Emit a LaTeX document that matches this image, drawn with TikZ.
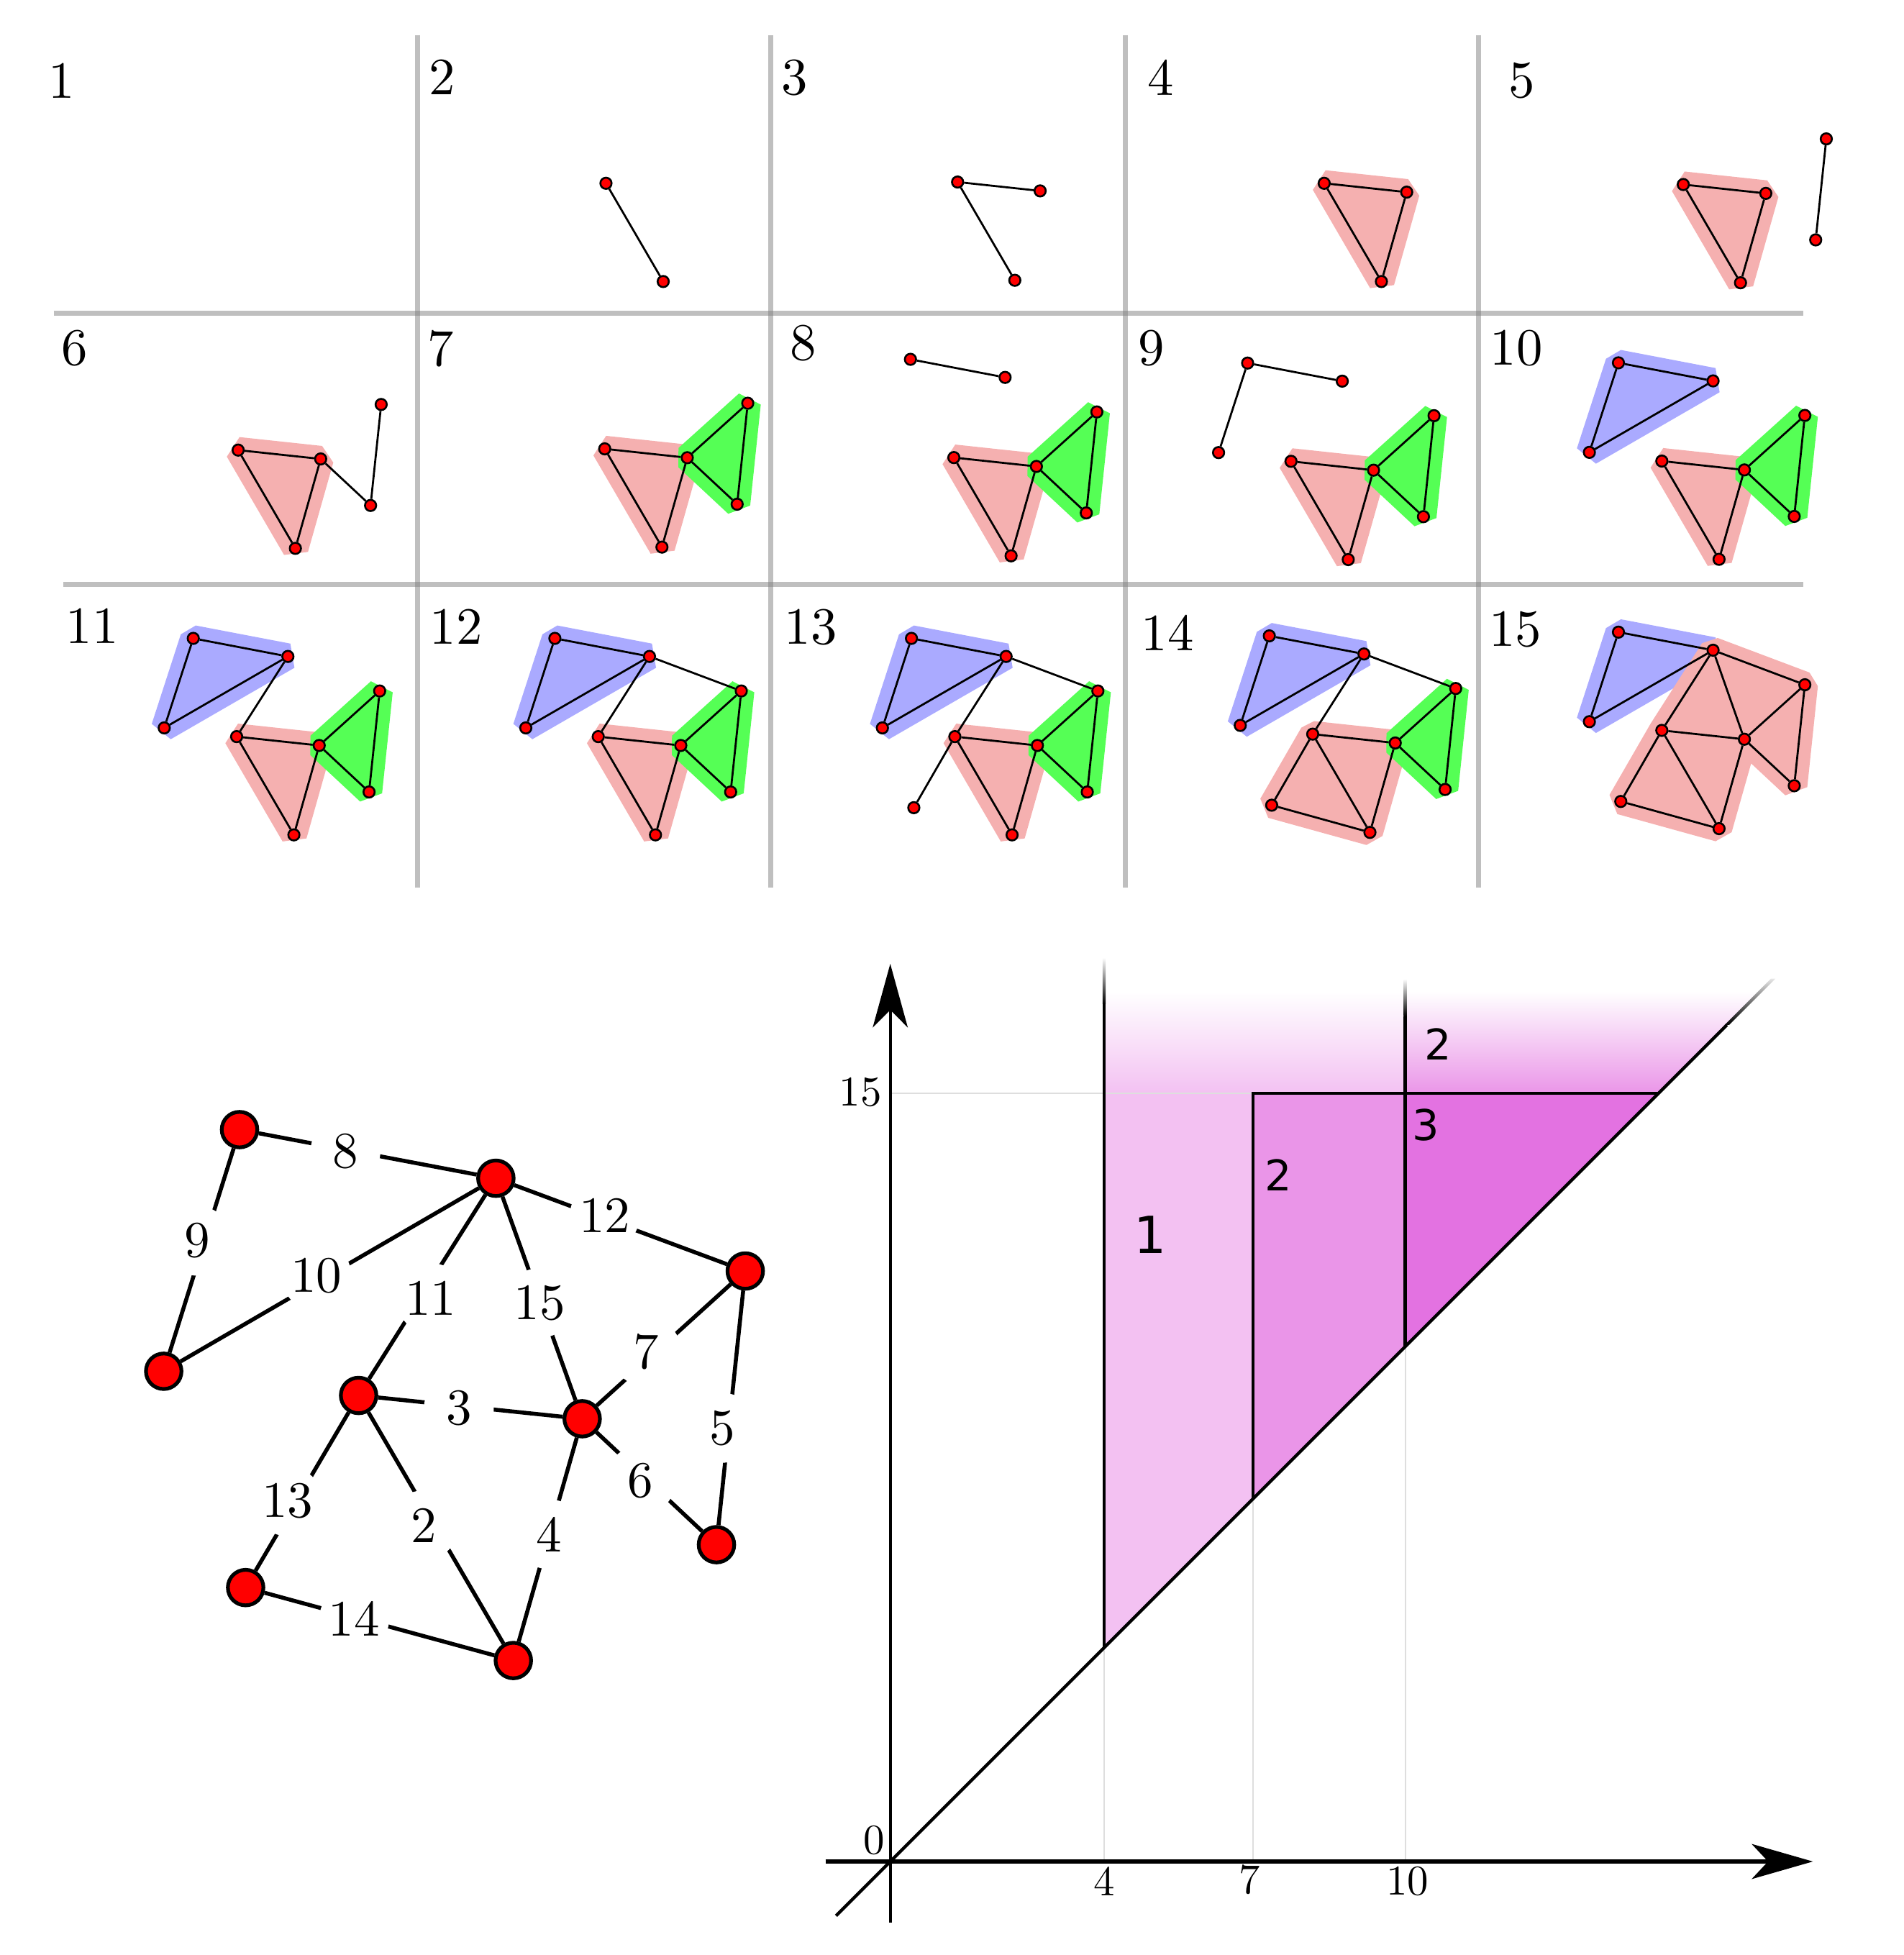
\documentclass[tikz,border=0pt]{standalone}
\usepackage{fontspec}
\newfontfamily\dejavu{DejaVu Sans}
\newfontfamily\lmten{lmroman10-regular}[Extension=.otf]
\usetikzlibrary{arrows.meta}
\definecolor{gridgray}{RGB}{128,128,128}
\definecolor{hpink}{RGB}{245,176,176}
\definecolor{hgreen}{RGB}{85,255,85}
\definecolor{hblue}{RGB}{170,170,255}
\definecolor{rone}{RGB}{243,193,242}
\definecolor{rtwo}{RGB}{234,149,232}
\definecolor{rthree}{RGB}{227,114,225}
\definecolor{lightgrid}{RGB}{222,222,222}
\tikzset{
  gridline/.style={draw=gridgray, draw opacity=0.5, line width=4pt},
  hullpink/.style={fill=hpink, draw=hpink, line width=21pt, line join=bevel},
  hullgreen/.style={fill=hgreen, draw=hgreen, line width=21pt, line join=bevel},
  hullblue/.style={fill=hblue, draw=hblue, line width=21pt, line join=bevel},
  pv/.style={circle, fill=red, draw=black, line width=1.5pt, minimum size=9pt, inner sep=0pt},
  pe/.style={draw=black, line width=1.6pt},
  plabel/.style={font=\lmten\fontsize{42}{42}\selectfont, inner sep=0pt},
  gv/.style={circle, fill=red, draw=black, line width=3pt, minimum size=28.5pt, inner sep=0pt},
  ge/.style={draw=black, line width=3.2pt},
  gl/.style={circle, fill=white, inner sep=0pt, minimum size=56pt, font=\lmten\fontsize{41}{41}\selectfont},
  axlabel/.style={font=\lmten\fontsize{34}{34}\selectfont, inner sep=0pt},
  rlabel/.style={font=\dejavu\fontsize{34}{34}\selectfont, inner sep=0pt},
  lgrid/.style={draw=lightgrid, line width=1.2pt},
  pline/.style={draw=black, line width=2.5pt},
}
% #1 name, #2 ox, #3 oy, #4 step
\newcommand\drawpanel[4]{%
\begin{scope}[shift={(#2,#3)}]
\coordinate (#1a) at (71.4,335.2);
\coordinate (#1b) at (147.3,349.7);
\coordinate (#1c) at (48.1,407.0);
\coordinate (#1d) at (220.9,377.4);
\coordinate (#1e) at (106.2,414.0);
\coordinate (#1f) at (172.4,421.1);
\coordinate (#1g) at (212.4,458.4);
\coordinate (#1h) at (73.3,471.0);
\coordinate (#1i) at (152.1,492.8);
% hulls
\ifnum#4>9 \path[hullblue] (#1a)--(#1b)--(#1c)--cycle;\fi
\ifnum#4>3 \ifnum#4<14 \path[hullpink] (#1e)--(#1f)--(#1i)--cycle;\fi\fi
\ifnum#4=14 \path[hullpink] (#1e)--(#1f)--(#1i)--(#1h)--cycle;\fi
\ifnum#4=15 \path[hullpink] (#1b)--(#1d)--(#1g)--(#1f)--(#1i)--(#1h)--(#1e)--cycle;\fi
\ifnum#4>6 \ifnum#4<15 \path[hullgreen] (#1f)--(#1d)--(#1g)--cycle;\fi\fi
% vertices
\ifnum#4>1 \node[pv] (#1E) at (#1e) {}; \node[pv] (#1I) at (#1i) {};\fi
\ifnum#4>2 \node[pv] (#1F) at (#1f) {};\fi
\ifnum#4>4 \node[pv] (#1D) at (#1d) {}; \node[pv] (#1G) at (#1g) {};\fi
\ifnum#4>7 \node[pv] (#1A) at (#1a) {}; \node[pv] (#1B) at (#1b) {};\fi
\ifnum#4>8 \node[pv] (#1C) at (#1c) {};\fi
\ifnum#4>12 \node[pv] (#1H) at (#1h) {};\fi
% edges
\ifnum#4>1 \draw[pe] (#1E) -- (#1I);\fi
\ifnum#4>2 \draw[pe] (#1E) -- (#1F);\fi
\ifnum#4>3 \draw[pe] (#1F) -- (#1I);\fi
\ifnum#4>4 \draw[pe] (#1D) -- (#1G);\fi
\ifnum#4>5 \draw[pe] (#1F) -- (#1G);\fi
\ifnum#4>6 \draw[pe] (#1F) -- (#1D);\fi
\ifnum#4>7 \draw[pe] (#1A) -- (#1B);\fi
\ifnum#4>8 \draw[pe] (#1A) -- (#1C);\fi
\ifnum#4>9 \draw[pe] (#1C) -- (#1B);\fi
\ifnum#4>10 \draw[pe] (#1E) -- (#1B);\fi
\ifnum#4>11 \draw[pe] (#1B) -- (#1D);\fi
\ifnum#4>12 \draw[pe] (#1E) -- (#1H);\fi
\ifnum#4>13 \draw[pe] (#1H) -- (#1I);\fi
\ifnum#4>14 \draw[pe] (#1B) -- (#1F);\fi
\end{scope}}
\begin{document}
\begin{tikzpicture}[x=1pt,y=-1pt]
\useasboundingbox (0,0) rectangle (1527,1568);
% ---------- grid ----------
\draw[gridline] (43,251) -- (1446,251);
\draw[gridline] (51,468.5) -- (1446,468.5);
\foreach \gx in {334.8,618.4,902.3,1186} {\draw[gridline] (\gx,28) -- (\gx,712);}
% ---------- panel labels ----------
\node[plabel] (l1) at (49.4,64.9) {1};
\node[plabel] (l2) at (354.9,62) {2};
\node[plabel] (l3) at (637.5,62.5) {3};
\node[plabel] (l4) at (930.7,62.5) {4};
\node[plabel] (l5) at (1220.4,64.6) {5};
\node[plabel] (l6) at (59.9,279.4) {6};
\node[plabel] (l7) at (353.7,279.8) {7};
\node[plabel] (l8) at (644.1,275) {8};
\node[plabel] (l9) at (923.5,279.4) {9};
\node[plabel] (l10) at (1216.1,279.4) {10};
\node[plabel] (l11) at (74,502.3) {11};
\node[plabel] (l12) at (365.8,502.8) {12};
\node[plabel] (l13) at (650.2,503.2) {13};
\node[plabel] (l14) at (936.5,507.7) {14};
\node[plabel] (l15) at (1215.3,505) {15};
% ---------- panels ----------
\drawpanel{pb}{379.8}{-267}{2}
\drawpanel{pc}{661.8}{-268}{3}
\drawpanel{pd}{955.8}{-267}{4}
\drawpanel{pe}{1243.8}{-266}{5}
\drawpanel{pf}{84.8}{-53}{6}
\drawpanel{pg}{378.8}{-54}{7}
\drawpanel{ph}{658.8}{-47}{8}
\drawpanel{pi}{929.2}{-44}{9}
\drawpanel{pj}{1226.6}{-44.2}{10}
\drawpanel{pk}{83.6}{176.8}{11}
\drawpanel{pl}{373.6}{176.8}{12}
\drawpanel{pm}{659.6}{176.8}{13}
\drawpanel{pn}{946.6}{174.8}{14}
\drawpanel{po}{1226.6}{171.8}{15}
% ---------- big graph ----------
\node[gv] (A) at (192.1,906.0) {};
\node[gv] (B) at (397.7,945.0) {};
\node[gv] (C) at (131.3,1099.8) {};
\node[gv] (D) at (597.7,1019.4) {};
\node[gv] (E) at (287.6,1119.2) {};
\node[gv] (F) at (466.9,1137.9) {};
\node[gv] (G) at (574.6,1238.9) {};
\node[gv] (H) at (197.0,1273.3) {};
\node[gv] (I) at (411.7,1331.8) {};
\draw[ge] (A) -- (B);
\draw[ge] (A) -- (C);
\draw[ge] (C) -- (B);
\draw[ge] (E) -- (B);
\draw[ge] (B) -- (D);
\draw[ge] (B) -- (F);
\draw[ge] (F) -- (D);
\draw[ge] (D) -- (G);
\draw[ge] (E) -- (F);
\draw[ge] (F) -- (G);
\draw[ge] (E) -- (H);
\draw[ge] (E) -- (I);
\draw[ge] (F) -- (I);
\draw[ge] (H) -- (I);
\node[gl] (e8) at (277.1,923.2) {8};
\node[gl] (e9) at (158,995.1) {9};
\node[gl] (e10) at (253.7,1023.2) {10};
\node[gl] (e11) at (345.3,1041.0) {11};
\node[gl] (e12) at (485.1,974.7) {12};
\node[gl] (e15) at (432.7,1045.1) {15};
\node[gl] (e7) at (518.3,1084.2) {7};
\node[gl] (e5) at (579.5,1145.2) {5};
\node[gl] (e3) at (368.0,1129.5) {3};
\node[gl] (e6) at (513.8,1187.4) {6};
\node[gl] (e13) at (230.6,1204.0) {13};
\node[gl] (e2) at (340.0,1223.3) {2};
\node[gl] (e4) at (440.3,1230.5) {4};
\node[gl] (e14) at (284.1,1298.4) {14};
% ---------- persistence diagram ----------
\fill[rone] (885.5,1321.5) -- (885.5,877) -- (1005,877) -- (1005,1202) -- cycle;
\fill[rtwo] (1005,1202) -- (1005,877) -- (1127,877) -- (1127,1080) -- cycle;
\fill[rthree] (1127,1080) -- (1127,877) -- (1330,877) -- cycle;
\shade[top color=white, bottom color=rone] (885.5,877) rectangle (1127,795);
\shade[top color=white, bottom color=rtwo] (1127,877) -- (1330,877) -- (1412,795) -- (1127,795) -- cycle;
\draw[lgrid] (714,877) -- (1005,877);
\draw[lgrid] (885.5,1493) -- (885.5,1321.5);
\draw[lgrid] (1005,1493) -- (1005,1202);
\draw[lgrid] (1127,1493) -- (1127,1080);
\draw[pline] (885.5,1321.5) -- (885.5,805);
\shade[top color=white, bottom color=black] (884.25,805) rectangle (886.75,768);
\draw[pline] (1005,1202) -- (1005,877) -- (1330,877);
\draw[pline] (1127,1080) -- (1127,815);
\shade[top color=white, bottom color=black] (1125.75,815) rectangle (1128.25,785);
\draw[pline] (670.5,1536.5) -- (1385,822);
\shade[top color=black!10, bottom color=black] (1383.2,822) -- (1386.8,822) -- (1423.8,785) -- (1420.2,785) -- cycle;
\draw[line width=2.5pt, -{Stealth[length=51pt,width=28pt,inset=14pt]}] (714,1542) -- (714,773);
\draw[line width=3pt, -{Stealth[length=49pt,width=28pt,inset=13pt]}] (662,1493) -- (1454,1493);
\node[axlabel] (t0) at (701,1476) {0};
\node[axlabel] (t4) at (885.5,1508.6) {4};
\node[axlabel] (t7) at (1002,1507.5) {7};
\node[axlabel] (t10) at (1128.7,1508.6) {10};
\node[axlabel] (t15) at (690,876) {15};
\node[rlabel, font=\dejavu\fontsize{41}{41}\selectfont] (r1) at (922.7,990) {1};
\node[rlabel] (r2) at (1025.4,942.6) {2};
\node[rlabel] (r3) at (1143.5,902.2) {3};
\node[rlabel] (r2b) at (1153.5,837.5) {2};
\end{tikzpicture}
\end{document}
